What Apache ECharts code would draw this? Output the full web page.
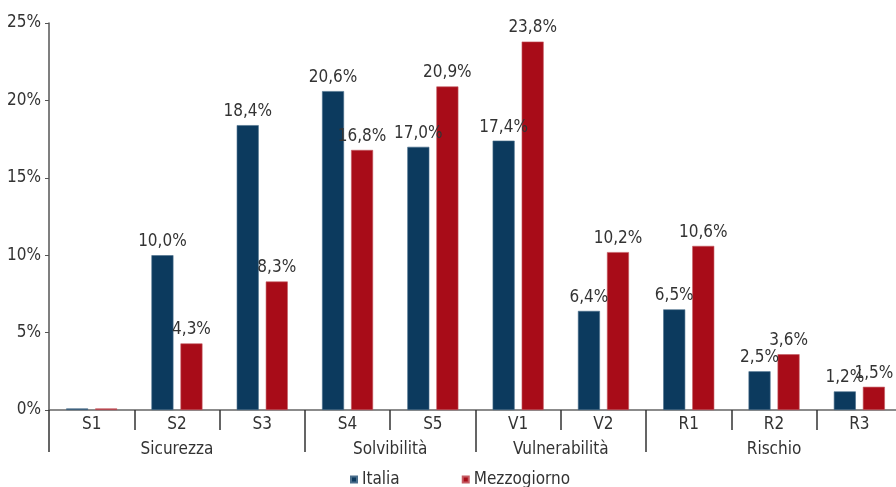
<!DOCTYPE html>
<html>
<head>
<meta charset="utf-8">
<script src="https://cdn.jsdelivr.net/npm/echarts@6/dist/echarts.min.js"></script>
<style>html,body{margin:0;padding:0;background:#fff}#c{width:896px;height:487px}</style>
</head>
<body>
<div id="c"></div>
<script>
const categories = ['S1','S2','S3','S4','S5','V1','V2','R1','R2','R3'];
const groups = ['Sicurezza','Solvibilità','Vulnerabilità','Rischio'];
const groupBounds = [0,3,5,7,10];
const groupCenters = [1.5,4,6,8.5];
const italia = [0.1,10.0,18.4,20.6,17.0,17.4,6.4,6.5,2.5,1.2];
const mezzogiorno = [0.1,4.3,8.3,16.8,20.9,23.8,10.2,10.6,3.6,1.5];
const yTicks = [0,5,10,15,20,25];

const FONT = '"DejaVu Sans Condensed","Liberation Sans Narrow",sans-serif';
const fmt = v => v.toFixed(1).replace('.', ',') + '%';
function mk(arr){
  return arr.map((v,i)=> i===0 ? {value:v,label:{show:false}} : v);
}
const chart = echarts.init(document.getElementById('c'));
chart.setOption({
  animation:false,
  textStyle:{fontFamily:FONT},
  grid:{left:49,width:853,top:23,height:387,containLabel:false,outerBoundsMode:'none'},
  legend:{
    top:466, left:345, icon:'rect', itemWidth:6, itemHeight:6, itemGap:62,
    textStyle:{fontFamily:FONT,fontSize:17,color:'#333'},
    data:['Italia','Mezzogiorno']
  },
  xAxis:[{
    type:'category', data:categories, position:'bottom',
    axisLine:{lineStyle:{color:'#666',width:1.5}},
    axisTick:{show:true,length:20,interval:0,lineStyle:{color:'#333',width:1.5}},
    axisLabel:{fontFamily:FONT,fontSize:17,color:'#333',margin:6}
  },{
    type:'value', min:0, max:10, position:'bottom',
    splitLine:{show:false},
    axisLine:{show:false},
    axisTick:{show:true,length:42,customValues:groupBounds,lineStyle:{color:'#333',width:1.5}},
    axisLabel:{show:true,customValues:groupCenters,fontFamily:FONT,fontSize:17,color:'#333',margin:31,
      formatter:v=>{const i=groupCenters.indexOf(v);return i>=0?groups[i]:'';}}
  }],
  yAxis:{
    type:'value', min:0, max:25, interval:5,
    splitLine:{show:false},
    axisLine:{show:true,lineStyle:{color:'#555',width:1.5}},
    axisTick:{show:true,length:4,lineStyle:{color:'#555'}},
    axisLabel:{fontFamily:FONT,fontSize:17,color:'#333',margin:8,formatter:v=>v+'%'}
  },
  series:[{
    name:'Italia', type:'bar', xAxisIndex:0, data:mk(italia), barWidth:22, barGap:'32%',
    itemStyle:{color:'#0c3a5e',borderColor:'#4a6e8c',borderWidth:0.6},
    label:{show:true,position:'top',distance:5,fontFamily:FONT,fontSize:17,color:'#333',formatter:p=>fmt(p.value)}
  },{
    name:'Mezzogiorno', type:'bar', xAxisIndex:0, data:mk(mezzogiorno), barWidth:22, barGap:'32%',
    itemStyle:{color:'#a80c18',borderColor:'#c45a62',borderWidth:0.6},
    label:{show:true,position:'top',distance:5,fontFamily:FONT,fontSize:17,color:'#333',formatter:p=>fmt(p.value)}
  }]
});
</script>
</body>
</html>
